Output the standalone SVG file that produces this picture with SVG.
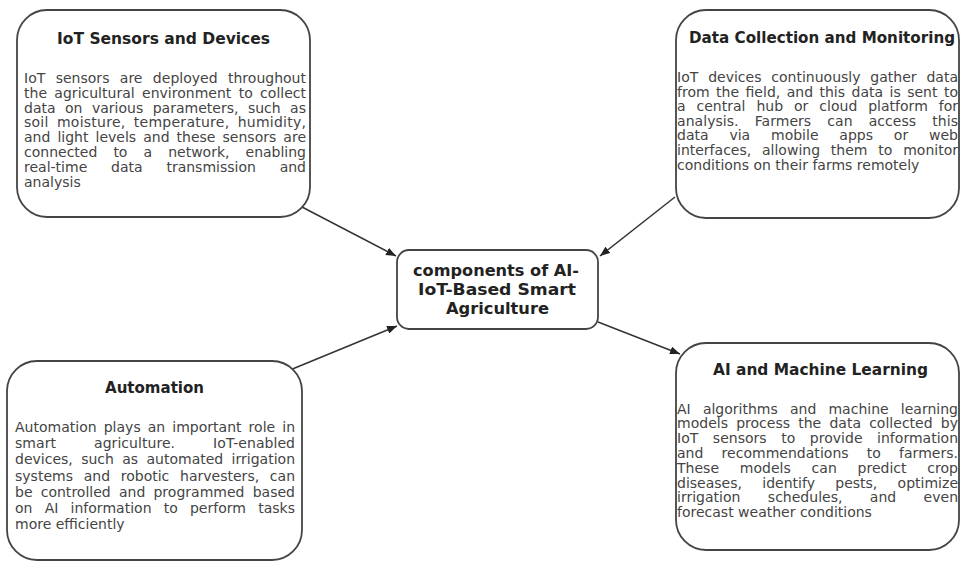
<svg xmlns="http://www.w3.org/2000/svg" width="961" height="562" viewBox="0 0 961 562">
<style>
.box{fill:#fff;stroke:#444;stroke-width:1.8}
.t{font-family:"DejaVu Sans",Verdana,sans-serif;font-weight:bold;font-size:15px;fill:#222;text-anchor:middle}
.c{font-family:"DejaVu Sans",Verdana,sans-serif;font-weight:bold;font-size:15px;fill:#222;text-anchor:middle}
.b{font-family:"DejaVu Sans",Verdana,sans-serif;font-size:14px;fill:#444}
.edge{stroke:#333;stroke-width:1.5;fill:none;marker-end:url(#ah)}
</style>
<defs>
<marker id="ah" markerUnits="userSpaceOnUse" markerWidth="11" markerHeight="8" refX="10" refY="4" orient="auto">
<path d="M0,0 L10,4 L0,8 z" fill="#222"/>
</marker>
</defs>
<rect width="961" height="562" fill="#fff"/>
<g id="connectors">
<line class="edge" x1="302" y1="207" x2="396" y2="256"/>
<line class="edge" x1="675" y1="197" x2="600" y2="256"/>
<line class="edge" x1="290" y1="370" x2="397" y2="326"/>
<line class="edge" x1="598" y1="322" x2="680" y2="354"/>
</g>
<g id="node-iot">
<rect class="box" x="17" y="10" width="293" height="207" rx="30"/>
<text class="t" x="163.5" y="44" textLength="213" lengthAdjust="spacingAndGlyphs">IoT Sensors and Devices</text>
<text class="b" x="24" y="83" textLength="282" lengthAdjust="spacing" word-spacing="5.9">IoT sensors are deployed throughout</text>
<text class="b" x="24" y="97.8" textLength="282" lengthAdjust="spacing" word-spacing="2.9">the agricultural environment to collect</text>
<text class="b" x="24" y="112.6" textLength="282" lengthAdjust="spacing" word-spacing="5">data on various parameters, such as</text>
<text class="b" x="24" y="127.4" textLength="282" lengthAdjust="spacing" word-spacing="3.6">soil moisture, temperature, humidity,</text>
<text class="b" x="24" y="142.2" textLength="282" lengthAdjust="spacing" word-spacing="2.6">and light levels and these sensors are</text>
<text class="b" x="24" y="157" textLength="282" lengthAdjust="spacing" word-spacing="11.6">connected to a network, enabling</text>
<text class="b" x="24" y="171.8" textLength="282" lengthAdjust="spacing" word-spacing="19.3">real-time data transmission and</text>
<text class="b" x="24" y="186.6">analysis</text>
</g>
<g id="node-data">
<rect class="box" x="676" y="10" width="283" height="208" rx="30"/>
<text class="t" x="822" y="43" textLength="266" lengthAdjust="spacingAndGlyphs">Data Collection and Monitoring</text>
<text class="b" x="677" y="82" textLength="281" lengthAdjust="spacing" word-spacing="5.4">IoT devices continuously gather data</text>
<text class="b" x="677" y="96.6" textLength="281" lengthAdjust="spacing" word-spacing="1.95">from the field, and this data is sent to</text>
<text class="b" x="677" y="111.2" textLength="281" lengthAdjust="spacing" word-spacing="6.5">a central hub or cloud platform for</text>
<text class="b" x="677" y="125.8" textLength="281" lengthAdjust="spacing" word-spacing="11.6">analysis. Farmers can access this</text>
<text class="b" x="677" y="140.4" textLength="281" lengthAdjust="spacing" word-spacing="16.4">data via mobile apps or web</text>
<text class="b" x="677" y="155" textLength="281" lengthAdjust="spacing" word-spacing="6.4">interfaces, allowing them to monitor</text>
<text class="b" x="677" y="169.6">conditions on their farms remotely</text>
</g>
<g id="node-center">
<rect class="box" x="397" y="250" width="201" height="79" rx="12"/>
<text class="c" x="496" y="276" textLength="166" lengthAdjust="spacingAndGlyphs">components of AI-</text>
<text class="c" x="497" y="295" textLength="158" lengthAdjust="spacingAndGlyphs">IoT-Based Smart</text>
<text class="c" x="497.5" y="313.5" textLength="103" lengthAdjust="spacingAndGlyphs">Agriculture</text>
</g>
<g id="node-automation">
<rect class="box" x="7" y="361" width="295" height="199" rx="30"/>
<text class="t" x="154.5" y="393" textLength="99" lengthAdjust="spacingAndGlyphs">Automation</text>
<text class="b" x="15" y="432" textLength="280" lengthAdjust="spacing" word-spacing="2.6">Automation plays an important role in</text>
<text class="b" x="15" y="448.2" textLength="280" lengthAdjust="spacing" word-spacing="33.5">smart agriculture. IoT-enabled</text>
<text class="b" x="15" y="464.4" textLength="280" lengthAdjust="spacing" word-spacing="3.9">devices, such as automated irrigation</text>
<text class="b" x="15" y="480.6" textLength="280" lengthAdjust="spacing" word-spacing="6.2">systems and robotic harvesters, can</text>
<text class="b" x="15" y="496.8" textLength="280" lengthAdjust="spacing" word-spacing="3.7">be controlled and programmed based</text>
<text class="b" x="15" y="513" textLength="280" lengthAdjust="spacing" word-spacing="7.7">on AI information to perform tasks</text>
<text class="b" x="15" y="529.2">more efficiently</text>
</g>
<g id="node-ai">
<rect class="box" x="676" y="343" width="283" height="207" rx="30"/>
<text class="t" x="820.5" y="375" textLength="215" lengthAdjust="spacingAndGlyphs">AI and Machine Learning</text>
<text class="b" x="677" y="413.6" textLength="281" lengthAdjust="spacing" word-spacing="7.7">AI algorithms and machine learning</text>
<text class="b" x="677" y="428.4" textLength="281" lengthAdjust="spacing" word-spacing="3.7">models process the data collected by</text>
<text class="b" x="677" y="443.2" textLength="281" lengthAdjust="spacing" word-spacing="10.1">IoT sensors to provide information</text>
<text class="b" x="677" y="458" textLength="281" lengthAdjust="spacing" word-spacing="13.7">and recommendations to farmers.</text>
<text class="b" x="677" y="472.8" textLength="281" lengthAdjust="spacing" word-spacing="16.3">These models can predict crop</text>
<text class="b" x="677" y="487.6" textLength="281" lengthAdjust="spacing" word-spacing="15.8">diseases, identify pests, optimize</text>
<text class="b" x="677" y="502.4" textLength="281" lengthAdjust="spacing" word-spacing="22.9">irrigation schedules, and even</text>
<text class="b" x="677" y="517.2">forecast weather conditions</text>
</g>
</svg>
